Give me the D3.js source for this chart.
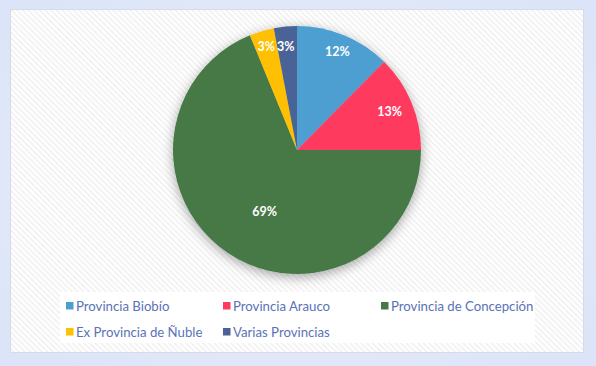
<!DOCTYPE html>
<html><head><meta charset="utf-8">
<script src="https://cdn.jsdelivr.net/npm/d3@7"></script>
<style>
html,body{margin:0;padding:0;background:#dfe7f8;}
svg{display:block;}
</style></head>
<body>
<svg id="chart" width="596" height="366"></svg>
<script>
const categories = ["Provincia Biobío", "Provincia Arauco", "Provincia de Concepción", "Ex Provincia de Ñuble", "Varias Provincias"];
const values = [12.4, 12.6, 68.8, 3.2, 3.0];
const labels = ["12%", "13%", "69%", "3%", "3%"];
const colors = ["#4e9fd1", "#fe3b5f", "#477947", "#fec000", "#4a6396"];

const svg = d3.select("#chart");
const defs = svg.append("defs");

// outer textured background
const bg = defs.append("radialGradient").attr("id","bgGrad").attr("cx","50%").attr("cy","50%").attr("r","70%");
bg.append("stop").attr("offset","0%").attr("stop-color","#e9eefb");
bg.append("stop").attr("offset","100%").attr("stop-color","#dbe4f8");
svg.append("rect").attr("width",596).attr("height",366).attr("fill","url(#bgGrad)");

// diagonal stripe pattern
const pat = defs.append("pattern").attr("id","stripes").attr("patternUnits","userSpaceOnUse")
  .attr("width",4).attr("height",4).attr("patternTransform","rotate(-45)");
pat.append("rect").attr("width",4).attr("height",4).attr("fill","#ffffff");
pat.append("rect").attr("width",1.5).attr("height",4).attr("fill","#efefef");

// chart area
svg.append("rect").attr("x",10.5).attr("y",9.5).attr("width",573).attr("height",343)
  .attr("fill","url(#stripes)").attr("stroke","#d6dbe8").attr("stroke-width",1);

// shadow filter
const f = defs.append("filter").attr("id","shadow").attr("x","-30%").attr("y","-30%").attr("width","160%").attr("height","160%");
f.append("feGaussianBlur").attr("in","SourceAlpha").attr("stdDeviation",6).attr("result","b");
f.append("feOffset").attr("in","b").attr("dx",0).attr("dy",3).attr("result","o");
f.append("feComponentTransfer").attr("in","o").attr("result","s")
  .append("feFuncA").attr("type","linear").attr("slope",0.35);
const m = f.append("feMerge");
m.append("feMergeNode").attr("in","s");
m.append("feMergeNode").attr("in","SourceGraphic");

const cx = 297, cy = 150, r = 124;
const pie = d3.pie().sort(null).value(d => d)(values);
const arc = d3.arc().innerRadius(0).outerRadius(r);
const g = svg.append("g").attr("transform",`translate(${cx},${cy})`);
const slices = g.append("g").attr("filter","url(#shadow)");
slices.selectAll("path").data(pie).join("path")
  .attr("d",arc).attr("fill",(d,i)=>colors[i]);

// labels
const labelRadius = [0.855, 0.81, 0.56, 0.87, 0.84];
const labelAngleAdj = [0, 0, -6, 0, -0.8];
g.selectAll("text").data(pie).join("text")
  .attr("transform",(d,i)=>{
    const a = (d.startAngle+d.endAngle)/2 + labelAngleAdj[i]*Math.PI/180;
    const rr = r*labelRadius[i];
    return `translate(${Math.sin(a)*rr},${-Math.cos(a)*rr})`;
  })
  .attr("text-anchor","middle").attr("dy","0.35em")
  .attr("fill","#ffffff").attr("font-family","Lato, 'Open Sans', sans-serif")
  .attr("font-weight","bold").attr("font-size","12.5px")
  .text((d,i)=>labels[i]);

// legend
svg.append("rect").attr("x",60).attr("y",292).attr("width",475).attr("height",51).attr("fill","#ffffff");
const legendPos = [[66,306],[223,306],[381,306],[66,332],[223,332]];
const lg = svg.append("g");
categories.forEach((c,i)=>{
  const [x,y] = legendPos[i];
  lg.append("rect").attr("x",x).attr("y",y-4).attr("width",7.5).attr("height",7.5).attr("fill",colors[i]);
  lg.append("text").attr("x",x+10).attr("y",y).attr("dy","0.35em")
    .attr("fill","#5a73b6").attr("font-family","Lato, 'Open Sans', sans-serif")
    .attr("font-size","13.2px").text(c);
});
</script>
</body></html>
